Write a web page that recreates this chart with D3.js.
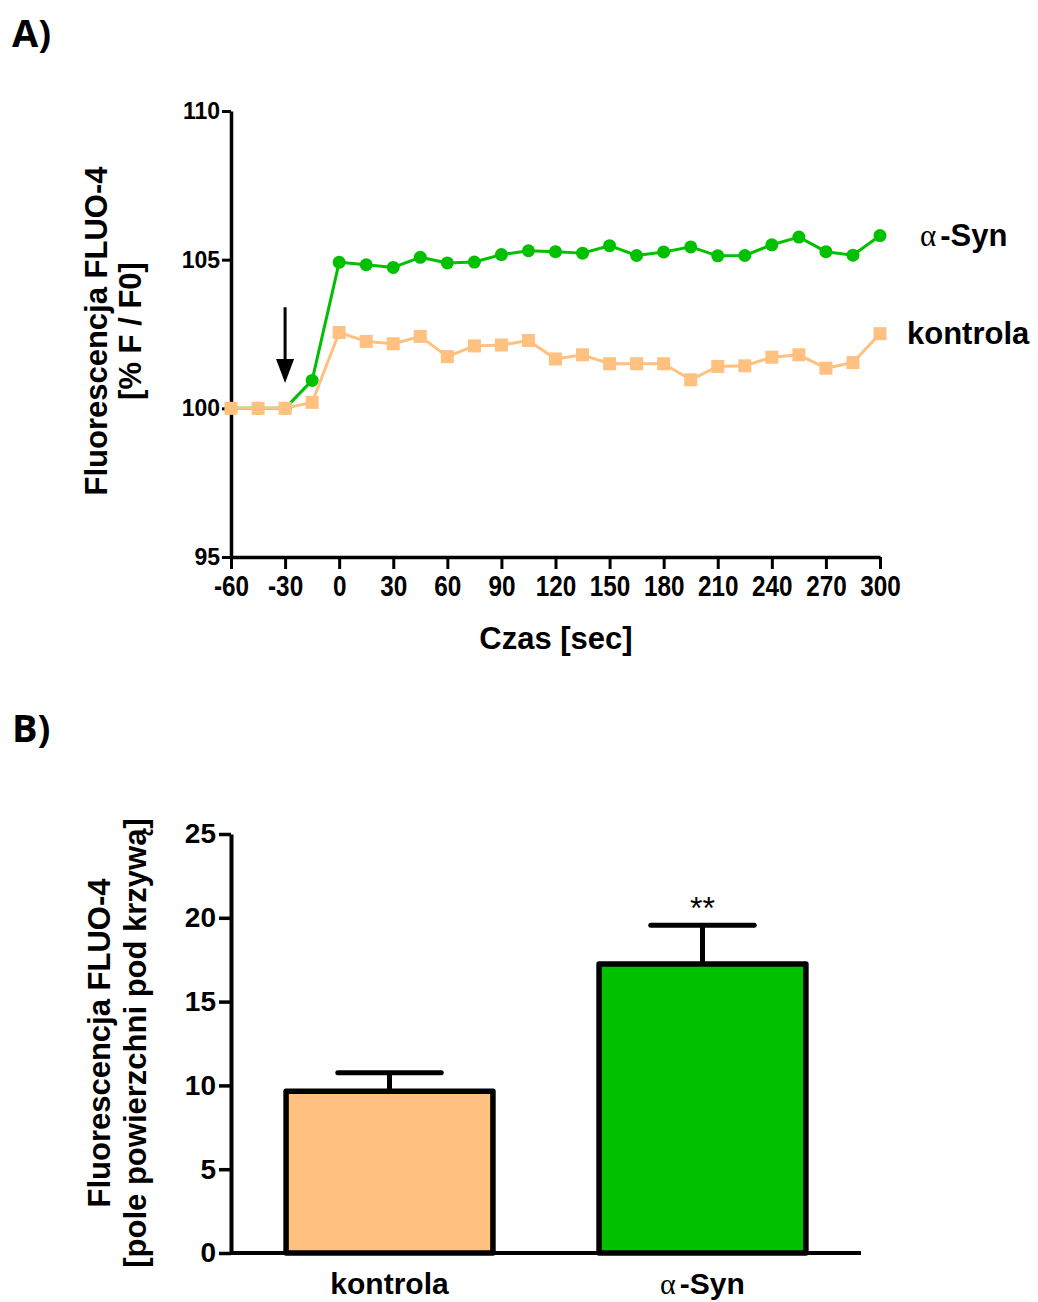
<!DOCTYPE html>
<html>
<head>
<meta charset="utf-8">
<script src="https://cdn.jsdelivr.net/npm/d3@7"></script>
<style>
  html, body { margin: 0; padding: 0; background: #fff; }
  svg { display: block; }
  .bold { font-family: "Liberation Sans", Arial, sans-serif; font-weight: bold; fill: #000; }
</style>
</head>
<body>
<svg id="chart" width="1038" height="1302"></svg>
<script>
// ---------- data ----------
const timeSec = [-60, -45, -30, -15, 0, 15, 30, 45, 60, 75, 90, 105, 120, 135, 150, 165, 180, 195, 210, 225, 240, 255, 270, 285, 300];
const aSynSeries = [100, 100, 100, 100.94, 104.91, 104.83, 104.74, 105.08, 104.89, 104.92, 105.17, 105.3, 105.27, 105.22, 105.47, 105.14, 105.26, 105.43, 105.13, 105.14, 105.5, 105.76, 105.27, 105.15, 105.81];
const kontrolaSeries = [100, 100, 100, 100.2, 102.55, 102.25, 102.17, 102.42, 101.74, 102.1, 102.13, 102.28, 101.66, 101.8, 101.5, 101.5, 101.5, 100.96, 101.41, 101.43, 101.72, 101.8, 101.35, 101.54, 102.51];
const xTicks = [-60, -30, 0, 30, 60, 90, 120, 150, 180, 210, 240, 270, 300];
const yTicksA = [95, 100, 105, 110];
const arrowTime = -30;
const arrowFrom = 103.4, arrowTo = 100.85;

const barCategories = ["kontrola", "α-Syn"];
const barMeans = [9.65, 17.25];
const barErrors = [1.1, 2.3];
const barSignif = ["", "**"];
const yTicksB = [0, 5, 10, 15, 20, 25];

const colOrange = "#FFC080";
const colGreen = "#00C000";

const svg = d3.select("#chart");
const plain = d => String(d);

// ---------- Panel labels ----------
svg.append("text").attr("x", 12).attr("y", 47)
  .style("font-family", "'Open Sans', sans-serif").style("font-weight", "bold").style("font-size", "38px")
  .text("A)");
svg.append("text").attr("x", 12).attr("y", 742)
  .style("font-family", "'Open Sans', sans-serif").style("font-weight", "bold").style("font-size", "38px")
  .text("B)");

// ---------- Chart A ----------
const xA = d3.scaleLinear().domain([-60, 300]).range([231, 880]);
const yA = d3.scaleLinear().domain([95, 110]).range([557, 111]);

const gA = svg.append("g");

const yAxisA = d3.axisLeft(yA).tickValues(yTicksA).tickFormat(plain).tickSize(9).tickSizeOuter(0).tickPadding(2);
const gyA = gA.append("g").attr("transform", `translate(${xA(-60)},0)`).call(yAxisA);
gyA.selectAll("path.domain").attr("stroke", "#000").attr("stroke-width", 3.5);
gyA.selectAll(".tick line").attr("stroke", "#000").attr("stroke-width", 3);
gyA.selectAll(".tick text").attr("class", "bold").style("font-size", "23px");

const xAxisA = d3.axisBottom(xA).tickValues(xTicks).tickFormat(plain).tickSize(12).tickSizeOuter(0).tickPadding(6);
const gxA = gA.append("g").attr("transform", `translate(0,${yA(95)})`).call(xAxisA);
gxA.selectAll("path.domain").attr("stroke", "#000").attr("stroke-width", 3.5);
gxA.selectAll(".tick line").attr("stroke", "#000").attr("stroke-width", 3);
gxA.selectAll(".tick text").attr("class", "bold").style("font-size", "27px")
  .attr("transform", "scale(0.9,1.06)");

// axis titles
gA.append("text").attr("class", "bold").style("font-size", "31px")
  .attr("text-anchor", "middle")
  .attr("transform", `translate(107,331) rotate(-90)`)
  .text("Fluorescencja FLUO-4");
gA.append("text").attr("class", "bold").style("font-size", "31px")
  .attr("text-anchor", "middle")
  .attr("transform", `translate(141,331) rotate(-90)`)
  .text("[% F / F0]");
gA.append("text").attr("class", "bold").style("font-size", "31px")
  .attr("text-anchor", "middle").attr("x", 556).attr("y", 649)
  .text("Czas [sec]");

// lines
const lineGen = (vals) => d3.line().x((d, i) => xA(timeSec[i])).y(d => yA(d))(vals);

gA.append("path").attr("d", lineGen(aSynSeries)).attr("fill", "none")
  .attr("stroke", colGreen).attr("stroke-width", 3).attr("stroke-linejoin", "round");
gA.selectAll("circle.syn").data(aSynSeries).enter().append("circle")
  .attr("class", "syn").attr("cx", (d, i) => xA(timeSec[i])).attr("cy", d => yA(d))
  .attr("r", 6.5).attr("fill", colGreen);

gA.append("path").attr("d", lineGen(kontrolaSeries)).attr("fill", "none")
  .attr("stroke", colOrange).attr("stroke-width", 3).attr("stroke-linejoin", "round");
gA.selectAll("rect.kon").data(kontrolaSeries).enter().append("rect")
  .attr("class", "kon").attr("x", (d, i) => xA(timeSec[i]) - 6.5).attr("y", d => yA(d) - 6.5)
  .attr("width", 13).attr("height", 13).attr("fill", colOrange);

// arrow
const ax = xA(arrowTime);
gA.append("line").attr("x1", ax).attr("x2", ax).attr("y1", yA(arrowFrom)).attr("y2", yA(arrowTo) - 20)
  .attr("stroke", "#000").attr("stroke-width", 3);
gA.append("path")
  .attr("d", `M${ax - 9},${yA(arrowTo) - 24} L${ax + 9},${yA(arrowTo) - 24} L${ax},${yA(arrowTo)} Z`)
  .attr("fill", "#000");

// series labels
const synLbl = gA.append("text").attr("class", "bold").style("font-size", "31px")
  .attr("x", 920).attr("y", yA(aSynSeries[aSynSeries.length - 1]) + 10);
synLbl.append("tspan").style("font-family", "'Liberation Serif', serif").style("font-weight", "normal").text("α");
synLbl.append("tspan").attr("dx", 4).text("-Syn");
gA.append("text").attr("class", "bold").style("font-size", "31px")
  .attr("x", 907).attr("y", yA(kontrolaSeries[kontrolaSeries.length - 1]) + 10)
  .text("kontrola");

// ---------- Chart B ----------
const xB = d3.scaleBand().domain(barCategories).range([231, 861]).paddingInner(0.339).paddingOuter(0.176);
const yB = d3.scaleLinear().domain([0, 25]).range([1253, 834]);
const gB = svg.append("g");

const yAxisB = d3.axisLeft(yB).tickValues(yTicksB).tickFormat(plain).tickSize(12).tickSizeOuter(0).tickPadding(3);
const gyB = gB.append("g").attr("transform", `translate(231,0)`).call(yAxisB);
gyB.selectAll("path.domain").attr("stroke", "#000").attr("stroke-width", 4);
gyB.selectAll(".tick line").attr("stroke", "#000").attr("stroke-width", 3.5);
gyB.selectAll(".tick text").attr("class", "bold").style("font-size", "28px");

// error bars (behind bars)
barCategories.forEach((c, i) => {
  const cx = xB(c) + xB.bandwidth() / 2;
  gB.append("line").attr("x1", cx).attr("x2", cx)
    .attr("y1", yB(barMeans[i])).attr("y2", yB(barMeans[i] + barErrors[i]))
    .attr("stroke", "#000").attr("stroke-width", 5);
  gB.append("line").attr("x1", cx - xB.bandwidth() * 0.25).attr("x2", cx + xB.bandwidth() * 0.25)
    .attr("y1", yB(barMeans[i] + barErrors[i])).attr("y2", yB(barMeans[i] + barErrors[i]))
    .attr("stroke", "#000").attr("stroke-width", 5).attr("stroke-linecap", "round");
  if (barSignif[i]) {
    gB.append("text").attr("x", cx).attr("y", yB(barMeans[i] + barErrors[i]) - 6)
      .attr("text-anchor", "middle")
      .style("font-family", "'Liberation Sans', Arial, sans-serif").style("font-size", "32px")
      .text(barSignif[i]);
  }
});

const barColors = [colOrange, colGreen];
gB.selectAll("rect.bar").data(barMeans).enter().append("rect")
  .attr("class", "bar")
  .attr("x", (d, i) => xB(barCategories[i]))
  .attr("y", d => yB(d))
  .attr("width", xB.bandwidth())
  .attr("height", d => yB(0) - yB(d))
  .attr("fill", (d, i) => barColors[i])
  .attr("stroke", "#000").attr("stroke-width", 5.5).attr("stroke-linejoin", "round");

// x axis line B
gB.append("line").attr("x1", 231).attr("x2", 861).attr("y1", yB(0)).attr("y2", yB(0))
  .attr("stroke", "#000").attr("stroke-width", 4);

// category labels
barCategories.forEach((c, i) => {
  const cx = xB(c) + xB.bandwidth() / 2;
  const t = gB.append("text").attr("class", "bold").style("font-size", "30px")
    .attr("text-anchor", "middle").attr("x", cx).attr("y", 1294);
  if (c.startsWith("α")) {
    t.append("tspan").style("font-family", "'Liberation Serif', serif").style("font-weight", "normal").text("α");
    t.append("tspan").attr("dx", 4).text(c.slice(1));
  } else {
    t.text(c);
  }
});

// axis titles B
gB.append("text").attr("class", "bold").style("font-size", "31px")
  .attr("text-anchor", "middle")
  .attr("transform", `translate(110,1043) rotate(-90)`)
  .text("Fluorescencja FLUO-4");
gB.append("text").attr("class", "bold").style("font-size", "31px")
  .attr("text-anchor", "middle")
  .attr("transform", `translate(146,1043) rotate(-90)`)
  .text("[pole powierzchni pod krzywą]");
</script>
</body>
</html>
